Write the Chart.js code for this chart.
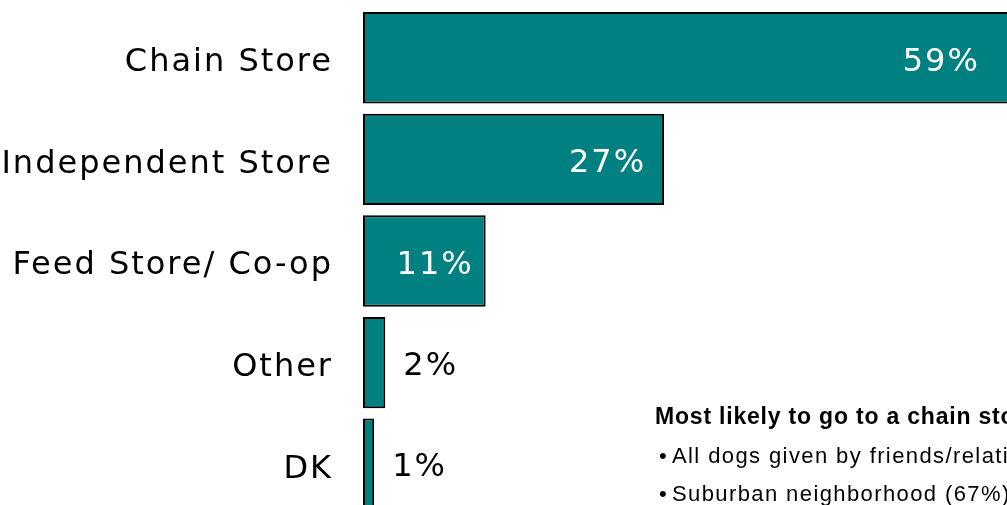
<!DOCTYPE html>
<html>
<head>
<meta charset="utf-8">
<script src="https://cdn.jsdelivr.net/npm/chart.js@4"></script>
<style>
  html, body { margin: 0; padding: 0; background: #fff; overflow: hidden; }
  #wrap { position: relative; width: 1040px; height: 520px; }
</style>
</head>
<body>
<div id="wrap"><canvas id="storeChart" width="1040" height="520"></canvas></div>
<script>
const stores = ['Chain Store', 'Independent Store', 'Feed Store/ Co-op', 'Other', 'DK'];
const shares = [59, 27, 11, 2, 1];
const noteTitle = 'Most likely to go to a chain store:';
const noteLines = ['All dogs given by friends/relatives', 'Suburban neighborhood (67%)'];

const TEAL = '#008080';
const LABEL_FONT = '32px "DejaVu Sans"';
// how far the white labels sit inside the bar ends
const insets = [41, 18, 12];

// wide tracking for the axis labels
const tracking = {
    id: 'tracking',
    beforeDraw(chart) {
        chart.ctx.letterSpacing = '2px';
    }
};

const valueLabels = {
    id: 'valueLabels',
    afterDatasetsDraw(chart) {
        const ctx = chart.ctx;
        const meta = chart.getDatasetMeta(0);
        ctx.save();
        ctx.font = LABEL_FONT;
        ctx.letterSpacing = '2px';
        ctx.textBaseline = 'alphabetic';
        meta.data.forEach((bar, i) => {
            const v = shares[i];
            const text = v + '%';
            if (v >= 5) {
                ctx.fillStyle = '#fff';
                ctx.textAlign = 'right';
                ctx.fillText(text, bar.x - insets[i], bar.y + 13);
            } else {
                ctx.fillStyle = '#000';
                ctx.textAlign = 'left';
                ctx.fillText(text, bar.x + 18, bar.y + 12);
            }
        });
        ctx.restore();
    }
};

const note = {
    id: 'note',
    afterDraw(chart) {
        const ctx = chart.ctx;
        ctx.save();
        ctx.fillStyle = '#000';
        ctx.textAlign = 'left';
        ctx.textBaseline = 'alphabetic';
        ctx.font = 'bold 23px "Liberation Sans"';
        ctx.letterSpacing = '0.8px';
        ctx.fillText(noteTitle, 655, 424);
        ctx.font = '22px "Liberation Sans"';
        ctx.letterSpacing = '1.4px';
        noteLines.forEach((line, i) => {
            const y = 463 + i * 38;
            ctx.fillText('\u2022', 659, y);
            ctx.fillText(line, 672, y);
        });
        ctx.restore();
    }
};

new Chart(document.getElementById('storeChart'), {
    type: 'bar',
    data: {
        labels: stores,
        datasets: [{
            data: shares,
            backgroundColor: TEAL,
            borderColor: '#000',
            borderWidth: 2,
            borderSkipped: false,
            categoryPercentage: 1,
            barPercentage: 0.9
        }]
    },
    options: {
        indexAxis: 'y',
        responsive: false,
        animation: false,
        layout: { padding: { top: 7, bottom: 5, left: 0, right: 8 } },
        plugins: {
            legend: { display: false },
            tooltip: { enabled: false }
        },
        scales: {
            x: {
                display: false,
                min: 0,
                max: 60
            },
            y: {
                grid: { display: false },
                border: { display: false },
                ticks: {
                    color: '#000',
                    font: { family: 'DejaVu Sans', size: 32 },
                    padding: 22,
                    labelOffset: 5
                },
                afterFit(scale) {
                    scale.width = 363;
                    scale.paddingTop = 0;
                    scale.paddingBottom = 0;
                }
            }
        }
    },
    plugins: [tracking, valueLabels, note]
});
</script>
</body>
</html>
